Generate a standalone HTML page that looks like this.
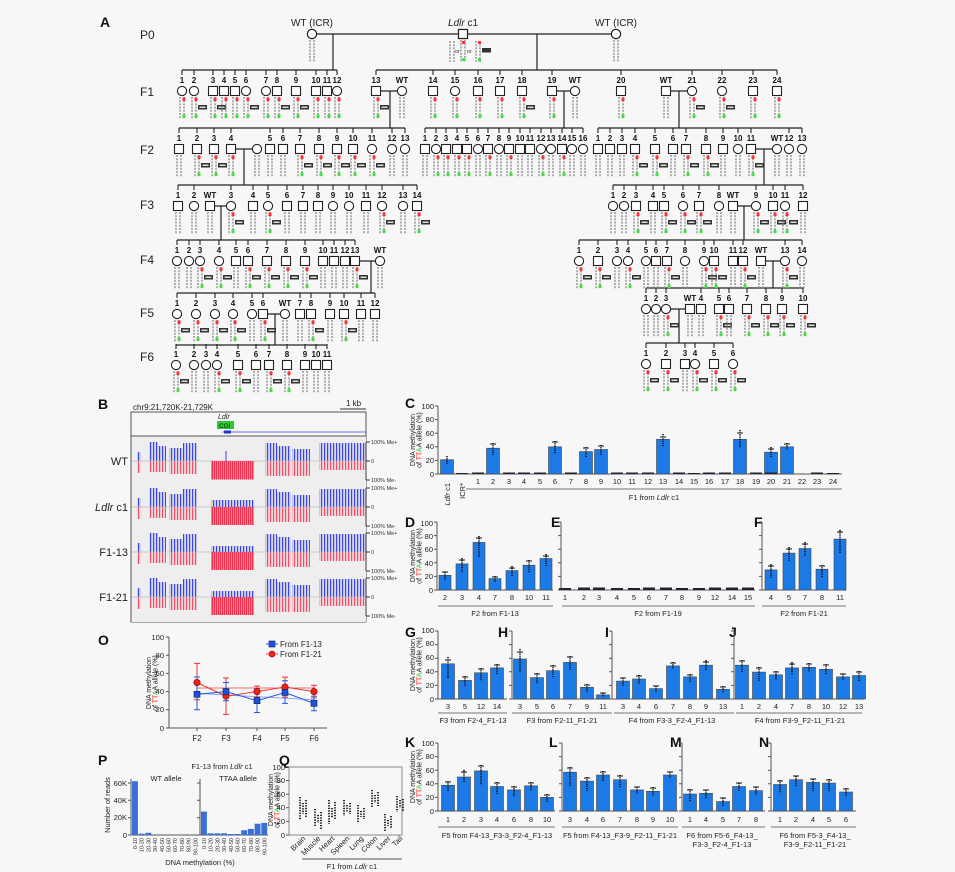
<!DOCTYPE html>
<html><head><meta charset="utf-8"><style>
html,body{margin:0;padding:0;background:#f7f7f7;}
svg{display:block;font-family:"Liberation Sans",Arial,sans-serif;}
</style></head><body>
<svg width="955" height="872" viewBox="0 0 955 872" xmlns="http://www.w3.org/2000/svg" xmlns:xlink="http://www.w3.org/1999/xlink">
<defs>
<g id="q"><path d="M-2 27V49M2 27V49" stroke="#888" stroke-width="1.3" stroke-dasharray="2,1.2" fill="none"/></g>
<g id="m"><rect x="0.5" y="27.5" width="3" height="3.5" fill="#f33"/><rect x="0.5" y="44.5" width="3" height="3.5" fill="#4d4"/></g>
<g id="u"><rect x="4" y="35" width="9" height="4.5" fill="#333"/><rect x="5.5" y="36.5" width="6" height="1.5" fill="#ddd"/></g>
<g id="sh"><rect x="-4.5" y="16.5" width="9" height="9" fill="#fff" stroke="#222" stroke-width="1.1"/></g>
<g id="ch"><circle cx="0" cy="21" r="4.6" fill="#fff" stroke="#222" stroke-width="1.1"/></g>
<g id="dl"><path d="M0 0V5" stroke="#222" stroke-width="1.1"/></g>
<g id="s0"><use xlink:href="#dl"/><use xlink:href="#sh"/><use xlink:href="#q"/></g>
<g id="s1"><use xlink:href="#s0"/><use xlink:href="#m"/></g>
<g id="s2"><use xlink:href="#s1"/><use xlink:href="#u"/></g>
<g id="c0"><use xlink:href="#dl"/><use xlink:href="#ch"/><use xlink:href="#q"/></g>
<g id="c1"><use xlink:href="#c0"/><use xlink:href="#m"/></g>
<g id="c2"><use xlink:href="#c1"/><use xlink:href="#u"/></g>
<g id="sw"><use xlink:href="#sh"/><use xlink:href="#q"/></g>
<g id="cw"><use xlink:href="#ch"/><use xlink:href="#q"/></g>
<pattern id="pb" width="3" height="10" patternUnits="userSpaceOnUse"><rect width="1.1" height="10" fill="#3b45e8"/><rect x="1.6" width="0.7" height="10" fill="#a0a5f2"/></pattern>
<pattern id="pr" width="3" height="10" patternUnits="userSpaceOnUse"><rect width="1.1" height="10" fill="#f0506a"/><rect x="1.6" width="0.7" height="10" fill="#f5a8b4"/></pattern>
<pattern id="prd" width="2" height="10" patternUnits="userSpaceOnUse"><rect width="1.3" height="10" fill="#f0304f"/><rect x="1.3" width="0.7" height="10" fill="#f58a9c"/></pattern>
<g id="ax"><path d="M0 0V-68M-3 0h3M-3 -13.6h3M-3 -27.2h3M-3 -40.8h3M-3 -54.4h3M-3 -68h3" stroke="#555" fill="none"/></g>
<g id="trk">
<rect x="137" y="-9" width="4" height="9" fill="url(#pb)"/><rect x="137" y="0" width="4" height="12" fill="url(#pr)"/>
<rect x="149" y="-19" width="9" height="19" fill="url(#pb)"/><rect x="158" y="-15" width="8" height="15" fill="url(#pb)"/><rect x="149" y="0" width="17" height="11" fill="url(#pr)"/>
<rect x="169" y="-13" width="14" height="13" fill="url(#pb)"/><rect x="183" y="-18" width="14" height="18" fill="url(#pb)"/><rect x="169" y="0" width="28" height="13" fill="url(#pr)"/>
<rect x="265" y="-18" width="12" height="18" fill="url(#pb)"/><rect x="277" y="-15" width="14" height="15" fill="url(#pb)"/><rect x="265" y="0" width="26" height="15" fill="url(#pr)"/>
<rect x="292" y="-12" width="18" height="12" fill="url(#pb)"/><rect x="292" y="0" width="18" height="15" fill="url(#pr)"/>
<rect x="319" y="-18" width="47" height="18" fill="url(#pb)"/><rect x="319" y="0" width="47" height="9" fill="url(#pr)"/>
<path d="M131.5 0H366" stroke="#bbb" stroke-width="0.8"/>
<path d="M366 -19V19M366 -19h4M366 0h4M366 19h4" stroke="#333" stroke-width="0.9"/>
</g>
</defs>
<rect width="955" height="872" fill="#f7f7f7"/>
<g font-weight="bold" font-size="14" fill="#111">
<text x="100" y="27">A</text><text x="98" y="409">B</text><text x="405" y="408">C</text>
<text x="405" y="527">D</text><text x="551" y="527">E</text><text x="754" y="527">F</text>
<text x="405" y="637">G</text><text x="498" y="637">H</text><text x="605" y="637">I</text><text x="729" y="637">J</text>
<text x="405" y="747">K</text><text x="549" y="747">L</text><text x="670" y="747">M</text><text x="759" y="747">N</text>
<text x="98" y="645">O</text><text x="98" y="765">P</text><text x="279" y="765">Q</text>
</g>
<g font-size="12" fill="#222">
<text x="140" y="39">P0</text><text x="140" y="96">F1</text><text x="140" y="154">F2</text>
<text x="140" y="209">F3</text><text x="140" y="264">F4</text><text x="140" y="317">F5</text><text x="140" y="361">F6</text>
</g>
<g font-size="10" fill="#222" text-anchor="middle">
<text x="312" y="26">WT (ICR)</text><text x="463" y="26"><tspan font-style="italic">Ldlr</tspan> c1</text><text x="616" y="26">WT (ICR)</text>
</g>
<!-- P0 -->
<g stroke="#222" stroke-width="1.2" fill="none">
<path d="M312 34H616M333 34V70M537 34V70"/>
<path d="M182 70H337M376 70H777"/>
<path d="M381 91H397M390 91V128M557 91H570M564 91V128M671 91H687M679 91V128"/>
<path d="M179 128H405M425 128H583M598 128H802"/>
<path d="M236 149H252M244 149V185M756 149H772M764 149V185"/>
<path d="M178 185H417M613 185H803"/>
<path d="M215 206H226M221 206V240M738 206H751M744 206V240"/>
<path d="M177 240H355M579 240H802"/>
<path d="M360 261H375M371 261V293M766 261H780M773 261V288"/>
<path d="M177 293H375M646 288H803"/>
<path d="M268 314H280M275 314V345M671 309H685M679 309V343"/>
<path d="M176 345H327M646 343H733"/>
</g>
<use xlink:href="#cw" x="312" y="13"/><use xlink:href="#sw" x="463" y="13"/><use xlink:href="#cw" x="616" y="13"/>
<rect x="458.5" y="29.5" width="9" height="9" fill="#fff" stroke="#222" stroke-width="1.2"/>
<circle cx="312" cy="34" r="4.6" fill="#fff" stroke="#222" stroke-width="1.2"/><circle cx="616" cy="34" r="4.6" fill="#fff" stroke="#222" stroke-width="1.2"/>
<path d="M450 41V62M454 41V62M476 41V62M480 41V62" stroke="#888" stroke-width="1.3" stroke-dasharray="2,1.2"/>
<rect x="462" y="41" width="3" height="3" fill="#f33"/><rect x="478" y="41" width="3" height="3" fill="#f33"/><rect x="462" y="58" width="3" height="3" fill="#4d4"/><rect x="478" y="58" width="3" height="3" fill="#4d4"/>
<rect x="482" y="48" width="9" height="4.5" fill="#333"/>
<text x="455" y="53" font-size="5" fill="#222">or</text><text x="467" y="53" font-size="5" fill="#222">or</text>
<!-- F1 -->
<use xlink:href="#c1" x="182" y="70"/><use xlink:href="#c2" x="194" y="70"/><use xlink:href="#s2" x="213" y="70"/><use xlink:href="#s1" x="224" y="70"/><use xlink:href="#s1" x="235" y="70"/><use xlink:href="#c2" x="246" y="70"/><use xlink:href="#c1" x="266" y="70"/><use xlink:href="#s2" x="277" y="70"/><use xlink:href="#s2" x="296" y="70"/><use xlink:href="#s1" x="316" y="70"/><use xlink:href="#s1" x="327" y="70"/><use xlink:href="#c1" x="337" y="70"/>
<use xlink:href="#s2" x="376" y="70"/><use xlink:href="#cw" x="402" y="70"/><use xlink:href="#s1" x="433" y="70"/><use xlink:href="#c1" x="455" y="70"/><use xlink:href="#s1" x="478" y="70"/><use xlink:href="#s1" x="500" y="70"/><use xlink:href="#s2" x="522" y="70"/><use xlink:href="#s1" x="552" y="70"/><use xlink:href="#cw" x="575" y="70"/><use xlink:href="#s1" x="621" y="70"/><use xlink:href="#sw" x="666" y="70"/><use xlink:href="#c2" x="692" y="70"/><use xlink:href="#c2" x="722" y="70"/><use xlink:href="#s1" x="753" y="70"/><use xlink:href="#s1" x="777" y="70"/>
<!-- F2 -->
<use xlink:href="#s0" x="179" y="128"/><use xlink:href="#s2" x="197" y="128"/><use xlink:href="#s2" x="214" y="128"/><use xlink:href="#s1" x="231" y="128"/><use xlink:href="#cw" x="257" y="128"/><use xlink:href="#s0" x="270" y="128"/><use xlink:href="#s0" x="283" y="128"/><use xlink:href="#s2" x="300" y="128"/><use xlink:href="#s2" x="319" y="128"/><use xlink:href="#s2" x="337" y="128"/><use xlink:href="#s2" x="353" y="128"/><use xlink:href="#c2" x="372" y="128"/><use xlink:href="#c0" x="392" y="128"/><use xlink:href="#c0" x="405" y="128"/>
<use xlink:href="#s0" x="425" y="128"/><use xlink:href="#c1" x="436" y="128"/><use xlink:href="#s1" x="446" y="128"/><use xlink:href="#s1" x="457" y="128"/><use xlink:href="#s1" x="467" y="128"/><use xlink:href="#c0" x="478" y="128"/><use xlink:href="#s1" x="488" y="128"/><use xlink:href="#c0" x="499" y="128"/><use xlink:href="#s1" x="509" y="128"/><use xlink:href="#s0" x="520" y="128"/><use xlink:href="#s0" x="530" y="128"/><use xlink:href="#c1" x="541" y="128"/><use xlink:href="#c0" x="551" y="128"/><use xlink:href="#s1" x="562" y="128"/><use xlink:href="#c0" x="572" y="128"/><use xlink:href="#c0" x="583" y="128"/>
<use xlink:href="#s0" x="598" y="128"/><use xlink:href="#s0" x="610" y="128"/><use xlink:href="#s0" x="622" y="128"/><use xlink:href="#s2" x="635" y="128"/><use xlink:href="#s2" x="655" y="128"/><use xlink:href="#s0" x="673" y="128"/><use xlink:href="#s2" x="686" y="128"/><use xlink:href="#s2" x="706" y="128"/><use xlink:href="#s0" x="723" y="128"/><use xlink:href="#c0" x="738" y="128"/><use xlink:href="#s2" x="751" y="128"/><use xlink:href="#cw" x="777" y="128"/><use xlink:href="#c0" x="789" y="128"/><use xlink:href="#c0" x="802" y="128"/>
<!-- F3 -->
<use xlink:href="#s0" x="178" y="185"/><use xlink:href="#c0" x="194" y="185"/><use xlink:href="#sw" x="210" y="185"/><use xlink:href="#c2" x="231" y="185"/><use xlink:href="#s0" x="253" y="185"/><use xlink:href="#c2" x="268" y="185"/><use xlink:href="#s0" x="287" y="185"/><use xlink:href="#s0" x="303" y="185"/><use xlink:href="#s0" x="318" y="185"/><use xlink:href="#c0" x="333" y="185"/><use xlink:href="#c0" x="349" y="185"/><use xlink:href="#s0" x="366" y="185"/><use xlink:href="#c2" x="382" y="185"/><use xlink:href="#c0" x="403" y="185"/><use xlink:href="#s2" x="417" y="185"/>
<use xlink:href="#c0" x="613" y="185"/><use xlink:href="#c0" x="624" y="185"/><use xlink:href="#s2" x="636" y="185"/><use xlink:href="#s0" x="653" y="185"/><use xlink:href="#s2" x="664" y="185"/><use xlink:href="#c2" x="683" y="185"/><use xlink:href="#s2" x="699" y="185"/><use xlink:href="#c0" x="719" y="185"/><use xlink:href="#sw" x="733" y="185"/><use xlink:href="#c2" x="756" y="185"/><use xlink:href="#s2" x="773" y="185"/><use xlink:href="#c2" x="785" y="185"/><use xlink:href="#s0" x="803" y="185"/>
<!-- F4 -->
<use xlink:href="#c0" x="177" y="240"/><use xlink:href="#c0" x="189" y="240"/><use xlink:href="#c2" x="200" y="240"/><use xlink:href="#c2" x="219" y="240"/><use xlink:href="#s0" x="236" y="240"/><use xlink:href="#s2" x="248" y="240"/><use xlink:href="#s2" x="267" y="240"/><use xlink:href="#s2" x="286" y="240"/><use xlink:href="#s2" x="305" y="240"/><use xlink:href="#s0" x="323" y="240"/><use xlink:href="#s0" x="334" y="240"/><use xlink:href="#s0" x="345" y="240"/><use xlink:href="#s2" x="355" y="240"/><use xlink:href="#cw" x="380" y="240"/>
<use xlink:href="#c2" x="579" y="240"/><use xlink:href="#s2" x="598" y="240"/><use xlink:href="#c0" x="617" y="240"/><use xlink:href="#c2" x="628" y="240"/><use xlink:href="#c0" x="646" y="240"/><use xlink:href="#s0" x="656" y="240"/><use xlink:href="#s2" x="667" y="240"/><use xlink:href="#c0" x="685" y="240"/><use xlink:href="#c2" x="704" y="240"/><use xlink:href="#s2" x="714" y="240"/><use xlink:href="#s0" x="733" y="240"/><use xlink:href="#s2" x="743" y="240"/><use xlink:href="#sw" x="761" y="240"/><use xlink:href="#c2" x="785" y="240"/><use xlink:href="#c0" x="802" y="240"/>
<!-- F5 -->
<use xlink:href="#c2" x="177" y="293"/><use xlink:href="#c2" x="196" y="293"/><use xlink:href="#c2" x="215" y="293"/><use xlink:href="#c2" x="233" y="293"/><use xlink:href="#c0" x="252" y="293"/><use xlink:href="#s2" x="263" y="293"/><use xlink:href="#cw" x="285" y="293"/><use xlink:href="#s0" x="300" y="293"/><use xlink:href="#s2" x="311" y="293"/><use xlink:href="#s0" x="330" y="293"/><use xlink:href="#s2" x="344" y="293"/><use xlink:href="#s0" x="361" y="293"/><use xlink:href="#s0" x="375" y="293"/>
<use xlink:href="#c0" x="646" y="288"/><use xlink:href="#c0" x="656" y="288"/><use xlink:href="#c2" x="666" y="288"/><use xlink:href="#sw" x="690" y="288"/><use xlink:href="#s0" x="701" y="288"/><use xlink:href="#s2" x="719" y="288"/><use xlink:href="#s0" x="729" y="288"/><use xlink:href="#s2" x="747" y="288"/><use xlink:href="#s2" x="766" y="288"/><use xlink:href="#s2" x="782" y="288"/><use xlink:href="#s2" x="803" y="288"/>
<!-- F6 -->
<use xlink:href="#c2" x="176" y="344"/><use xlink:href="#c0" x="194" y="344"/><use xlink:href="#c0" x="206" y="344"/><use xlink:href="#c2" x="217" y="344"/><use xlink:href="#s2" x="238" y="344"/><use xlink:href="#s0" x="256" y="344"/><use xlink:href="#s2" x="269" y="344"/><use xlink:href="#s2" x="287" y="344"/><use xlink:href="#s0" x="305" y="344"/><use xlink:href="#s0" x="316" y="344"/><use xlink:href="#s0" x="327" y="344"/>
<use xlink:href="#c2" x="646" y="343"/><use xlink:href="#s2" x="666" y="343"/><use xlink:href="#s0" x="685" y="343"/><use xlink:href="#c2" x="695" y="343"/><use xlink:href="#s2" x="714" y="343"/><use xlink:href="#c2" x="733" y="343"/>
<!-- pedigree labels -->
<g font-size="8" font-weight="bold" fill="#111" text-anchor="middle">
<text x="182" y="83">1</text><text x="194" y="83">2</text><text x="213" y="83">3</text><text x="224" y="83">4</text><text x="235" y="83">5</text><text x="246" y="83">6</text><text x="266" y="83">7</text><text x="277" y="83">8</text><text x="296" y="83">9</text><text x="316" y="83">10</text><text x="327" y="83">11</text><text x="337" y="83">12</text>
<text x="376" y="83">13</text><text x="402" y="83">WT</text><text x="433" y="83">14</text><text x="455" y="83">15</text><text x="478" y="83">16</text><text x="500" y="83">17</text><text x="522" y="83">18</text><text x="552" y="83">19</text><text x="575" y="83">WT</text><text x="621" y="83">20</text><text x="666" y="83">WT</text><text x="692" y="83">21</text><text x="722" y="83">22</text><text x="753" y="83">23</text><text x="777" y="83">24</text>
<text x="179" y="141">1</text><text x="197" y="141">2</text><text x="214" y="141">3</text><text x="231" y="141">4</text><text x="270" y="141">5</text><text x="283" y="141">6</text><text x="300" y="141">7</text><text x="319" y="141">8</text><text x="337" y="141">9</text><text x="353" y="141">10</text><text x="372" y="141">11</text><text x="392" y="141">12</text><text x="405" y="141">13</text>
<text x="425" y="141">1</text><text x="436" y="141">2</text><text x="446" y="141">3</text><text x="457" y="141">4</text><text x="467" y="141">5</text><text x="478" y="141">6</text><text x="488" y="141">7</text><text x="499" y="141">8</text><text x="509" y="141">9</text><text x="520" y="141">10</text><text x="530" y="141">11</text><text x="541" y="141">12</text><text x="551" y="141">13</text><text x="562" y="141">14</text><text x="572" y="141">15</text><text x="583" y="141">16</text>
<text x="598" y="141">1</text><text x="610" y="141">2</text><text x="622" y="141">3</text><text x="635" y="141">4</text><text x="655" y="141">5</text><text x="673" y="141">6</text><text x="686" y="141">7</text><text x="706" y="141">8</text><text x="723" y="141">9</text><text x="738" y="141">10</text><text x="751" y="141">11</text><text x="777" y="141">WT</text><text x="789" y="141">12</text><text x="802" y="141">13</text>
<text x="178" y="198">1</text><text x="194" y="198">2</text><text x="210" y="198">WT</text><text x="231" y="198">3</text><text x="253" y="198">4</text><text x="268" y="198">5</text><text x="287" y="198">6</text><text x="303" y="198">7</text><text x="318" y="198">8</text><text x="333" y="198">9</text><text x="349" y="198">10</text><text x="366" y="198">11</text><text x="382" y="198">12</text><text x="403" y="198">13</text><text x="417" y="198">14</text>
<text x="613" y="198">1</text><text x="624" y="198">2</text><text x="636" y="198">3</text><text x="653" y="198">4</text><text x="664" y="198">5</text><text x="683" y="198">6</text><text x="699" y="198">7</text><text x="719" y="198">8</text><text x="733" y="198">WT</text><text x="756" y="198">9</text><text x="773" y="198">10</text><text x="785" y="198">11</text><text x="803" y="198">12</text>
<text x="177" y="253">1</text><text x="189" y="253">2</text><text x="200" y="253">3</text><text x="219" y="253">4</text><text x="236" y="253">5</text><text x="248" y="253">6</text><text x="267" y="253">7</text><text x="286" y="253">8</text><text x="305" y="253">9</text><text x="323" y="253">10</text><text x="334" y="253">11</text><text x="345" y="253">12</text><text x="355" y="253">13</text><text x="380" y="253">WT</text>
<text x="579" y="253">1</text><text x="598" y="253">2</text><text x="617" y="253">3</text><text x="628" y="253">4</text><text x="646" y="253">5</text><text x="656" y="253">6</text><text x="667" y="253">7</text><text x="685" y="253">8</text><text x="704" y="253">9</text><text x="714" y="253">10</text><text x="733" y="253">11</text><text x="743" y="253">12</text><text x="761" y="253">WT</text><text x="785" y="253">13</text><text x="802" y="253">14</text>
<text x="177" y="306">1</text><text x="196" y="306">2</text><text x="215" y="306">3</text><text x="233" y="306">4</text><text x="252" y="306">5</text><text x="263" y="306">6</text><text x="285" y="306">WT</text><text x="300" y="306">7</text><text x="311" y="306">8</text><text x="330" y="306">9</text><text x="344" y="306">10</text><text x="361" y="306">11</text><text x="375" y="306">12</text>
<text x="646" y="301">1</text><text x="656" y="301">2</text><text x="666" y="301">3</text><text x="690" y="301">WT</text><text x="701" y="301">4</text><text x="719" y="301">5</text><text x="729" y="301">6</text><text x="747" y="301">7</text><text x="766" y="301">8</text><text x="782" y="301">9</text><text x="803" y="301">10</text>
<text x="176" y="357">1</text><text x="194" y="357">2</text><text x="206" y="357">3</text><text x="217" y="357">4</text><text x="238" y="357">5</text><text x="256" y="357">6</text><text x="269" y="357">7</text><text x="287" y="357">8</text><text x="305" y="357">9</text><text x="316" y="357">10</text><text x="327" y="357">11</text>
<text x="646" y="356">1</text><text x="666" y="356">2</text><text x="685" y="356">3</text><text x="695" y="356">4</text><text x="714" y="356">5</text><text x="733" y="356">6</text>
</g>
<!-- Panel B -->
<text x="133" y="410" font-size="8" fill="#222">chr9:21,720K-21,729K</text>
<text x="346" y="406" font-size="8" fill="#222">1 kb</text>
<line x1="340" y1="409" x2="366" y2="409" stroke="#333" stroke-width="1"/>
<rect x="131" y="412" width="235" height="210" fill="#f7f7f7" stroke="#555" stroke-width="1"/>
<rect x="131.5" y="436" width="234.5" height="186" fill="#eeeeee"/>
<line x1="131" y1="436" x2="366" y2="436" stroke="#555"/>
<text x="218" y="419" font-size="7" font-style="italic" fill="#222">Ldlr</text>
<rect x="217" y="421" width="17" height="8" fill="#2ecc2e"/>
<text x="219" y="428" font-size="6.5" fill="#111">CGI</text>
<line x1="222" y1="432" x2="366" y2="432" stroke="#3344dd" stroke-width="0.8"/>
<rect x="224" y="430.5" width="7" height="3" fill="#2233cc"/>
<use xlink:href="#trk" x="0" y="461"/><use xlink:href="#trk" x="0" y="507"/><use xlink:href="#trk" x="0" y="552"/><use xlink:href="#trk" x="0" y="597"/>
<rect x="211" y="461" width="43" height="18.5" fill="url(#prd)"/><line x1="226" y1="461" x2="226" y2="451" stroke="#3b45e8"/>
<rect x="211" y="500" width="43" height="7" fill="url(#pb)"/><rect x="211" y="507" width="43" height="18" fill="url(#prd)"/>
<rect x="211" y="546" width="43" height="6" fill="url(#pb)"/><rect x="211" y="552" width="43" height="18" fill="url(#prd)"/>
<rect x="211" y="591" width="43" height="6" fill="url(#pb)"/><rect x="211" y="597" width="43" height="18" fill="url(#prd)"/>
<g font-size="5.5" fill="#333">
<text x="371" y="444">100% Me+</text><text x="371" y="463">0</text><text x="371" y="482">100% Me-</text>
<text x="371" y="490">100% Me+</text><text x="371" y="509">0</text><text x="371" y="528">100% Me-</text>
<text x="371" y="535">100% Me+</text><text x="371" y="554">0</text><text x="371" y="573">100% Me-</text>
<text x="371" y="580">100% Me+</text><text x="371" y="599">0</text><text x="371" y="618">100% Me-</text>
</g>
<g font-size="11" fill="#222" text-anchor="end">
<text x="128" y="465">WT</text><text x="128" y="511"><tspan font-style="italic">Ldlr</tspan> c1</text>
<text x="128" y="556">F1-13</text><text x="128" y="601">F1-21</text>
</g>
<!-- axes -->
<use xlink:href="#ax" x="438" y="474"/><use xlink:href="#ax" x="437" y="590"/><use xlink:href="#ax" x="561" y="590"/><use xlink:href="#ax" x="762" y="590"/>
<use xlink:href="#ax" x="438" y="699"/><use xlink:href="#ax" x="512" y="699"/><use xlink:href="#ax" x="612" y="699"/><use xlink:href="#ax" x="734" y="699"/>
<use xlink:href="#ax" x="438" y="811"/><use xlink:href="#ax" x="562" y="811"/><use xlink:href="#ax" x="682" y="811"/><use xlink:href="#ax" x="771" y="811"/>
<path d="M438 474H842M437 590H553M561 590H755M762 590H846M438 699H507M512 699H612M612 699H734M734 699H864M438 811H555M562 811H678M682 811H765M771 811H856" stroke="#555"/>
<path d="M466 489H842M438 606H553M562 606H755M762 606H846M438 713H507M512 713H612M614 713H734M736 713H862M438 827H555M562 827H678M682 827H765M771 827H856" stroke="#777"/>
<g font-size="7.5" fill="#222" text-anchor="end">
<text x="434" y="477">0</text><text x="434" y="463">20</text><text x="434" y="449">40</text><text x="434" y="436">60</text><text x="434" y="422">80</text><text x="434" y="409">100</text>
<text x="433" y="593">0</text><text x="433" y="579">20</text><text x="433" y="566">40</text><text x="433" y="552">60</text><text x="433" y="539">80</text><text x="433" y="526">100</text>
<text x="434" y="702">0</text><text x="434" y="688">20</text><text x="434" y="674">40</text><text x="434" y="660">60</text><text x="434" y="646">80</text><text x="434" y="633">100</text>
<text x="434" y="814">0</text><text x="434" y="800">20</text><text x="434" y="786">40</text><text x="434" y="773">60</text><text x="434" y="759">80</text><text x="434" y="746">100</text>
</g>
<!-- bars -->
<g fill="#1c7ae6" stroke="#444" stroke-width="0.6">
<rect x="440.5" y="459.7" width="13" height="14.3"/><rect x="486.5" y="448.2" width="13" height="25.8"/><rect x="548.5" y="446.8" width="13" height="27.2"/><rect x="579.5" y="451.6" width="13" height="22.4"/><rect x="594.5" y="449.5" width="13" height="24.5"/><rect x="656.5" y="439.3" width="13" height="34.7"/><rect x="733.5" y="439.3" width="13" height="34.7"/><rect x="764.5" y="452.2" width="13" height="21.8"/><rect x="780.5" y="446.8" width="13" height="27.2"/>
<rect x="439" y="575.3" width="12" height="14.7"/><rect x="456" y="563.9" width="12" height="26.1"/><rect x="473" y="542.4" width="12" height="47.6"/><rect x="489" y="578.6" width="12" height="11.4"/><rect x="506" y="570.6" width="12" height="19.4"/><rect x="523" y="565.2" width="12" height="24.8"/><rect x="540" y="558.5" width="12" height="31.5"/>
<rect x="765" y="569.9" width="12" height="20.1"/><rect x="783" y="553.1" width="12" height="36.9"/><rect x="799" y="548.5" width="12" height="41.5"/><rect x="816" y="569.2" width="12" height="20.8"/><rect x="834" y="539.1" width="12" height="50.9"/>
<rect x="441.5" y="663.8" width="13" height="35.2"/><rect x="458.5" y="680.4" width="13" height="18.6"/><rect x="474.5" y="672.8" width="13" height="26.2"/><rect x="490.5" y="667.9" width="13" height="31.1"/>
<rect x="513.5" y="659" width="13" height="40"/><rect x="530.5" y="677.6" width="13" height="21.4"/><rect x="546.5" y="670.7" width="13" height="28.3"/><rect x="563.5" y="662.4" width="13" height="36.6"/><rect x="580.5" y="687.3" width="13" height="11.7"/><rect x="596.5" y="694.9" width="13" height="4.1"/>
<rect x="616.5" y="681.1" width="13" height="17.9"/><rect x="632.5" y="679" width="13" height="20"/><rect x="649.5" y="688.6" width="13" height="10.4"/><rect x="666.5" y="665.9" width="13" height="33.1"/><rect x="683.5" y="676.9" width="13" height="22.1"/><rect x="699.5" y="665.2" width="13" height="33.8"/><rect x="716.5" y="689.3" width="13" height="9.7"/>
<rect x="735.5" y="665.2" width="13" height="33.8"/><rect x="752.5" y="672.1" width="13" height="26.9"/><rect x="769.5" y="674.8" width="13" height="24.2"/><rect x="785.5" y="667.9" width="13" height="31.1"/><rect x="802.5" y="667.3" width="13" height="31.7"/><rect x="819.5" y="669.3" width="13" height="29.7"/><rect x="836.5" y="676.9" width="13" height="22.1"/><rect x="852.5" y="675.5" width="13" height="23.5"/>
<rect x="441.5" y="785.2" width="13" height="25.8"/><rect x="457.5" y="777" width="13" height="34"/><rect x="474.5" y="770.9" width="13" height="40.1"/><rect x="490.5" y="786.5" width="13" height="24.5"/><rect x="507.5" y="789.9" width="13" height="21.1"/><rect x="524.5" y="785.8" width="13" height="25.2"/><rect x="540.5" y="797.4" width="13" height="13.6"/>
<rect x="563.5" y="772.2" width="13" height="38.8"/><rect x="580.5" y="781.1" width="13" height="29.9"/><rect x="596.5" y="775" width="13" height="36"/><rect x="613.5" y="779.7" width="13" height="31.3"/><rect x="630.5" y="789.9" width="13" height="21.1"/><rect x="646.5" y="791.3" width="13" height="19.7"/><rect x="663.5" y="775" width="13" height="36"/>
<rect x="683.5" y="794" width="13" height="17"/><rect x="699.5" y="793.3" width="13" height="17.7"/><rect x="716.5" y="801.5" width="13" height="9.5"/><rect x="732.5" y="786.5" width="13" height="24.5"/><rect x="749.5" y="790.6" width="13" height="20.4"/>
<rect x="773.5" y="784.5" width="13" height="26.5"/><rect x="789.5" y="779.7" width="13" height="31.3"/><rect x="806.5" y="782.4" width="13" height="28.6"/><rect x="822.5" y="783.1" width="13" height="27.9"/><rect x="839.5" y="792" width="13" height="19"/>
</g>
<g fill="#223">
<rect x="472" y="472.5" width="12" height="1.5"/><rect x="503" y="472.5" width="12" height="1.5"/><rect x="518" y="472.5" width="12" height="1.5"/><rect x="534" y="472.5" width="12" height="1.5"/><rect x="565" y="472.5" width="12" height="1.5"/><rect x="611" y="472.5" width="12" height="1.5"/><rect x="626" y="472.5" width="12" height="1.5"/><rect x="642" y="472.5" width="12" height="1.5"/><rect x="673" y="472.5" width="12" height="1.5"/><rect x="703" y="472.5" width="12" height="1.5"/><rect x="719" y="472.5" width="12" height="1.5"/><rect x="750" y="472.5" width="12" height="1.5"/><rect x="765" y="472.5" width="12" height="1.5"/><rect x="811" y="472.5" width="12" height="1.5"/><rect x="456" y="473" width="12" height="1"/><rect x="688" y="473" width="12" height="1"/><rect x="827" y="473" width="12" height="1"/>
<rect x="559" y="588" width="12" height="2"/><rect x="578" y="587.5" width="12" height="2.5"/><rect x="593" y="587.5" width="12" height="2.5"/><rect x="611" y="588" width="12" height="2"/><rect x="628" y="588" width="12" height="2"/><rect x="643" y="587.5" width="12" height="2.5"/><rect x="660" y="587.5" width="12" height="2.5"/><rect x="676" y="588" width="12" height="2"/><rect x="693" y="588" width="12" height="2"/><rect x="709" y="587.5" width="12" height="2.5"/><rect x="726" y="587.5" width="12" height="2.5"/><rect x="742" y="587.5" width="12" height="2.5"/>
</g>
<g stroke="#111" stroke-width="1.6" stroke-dasharray="1.2,1" fill="none">
<path d="M447 456V464M493 443V455M555 441V454M586 447V457M601 445V455M663 434V447M740 430V448M771 447V457M787 443V450"/>
<path d="M445 572V580M462 558V572M479 536V557M495 576V582M512 566V576M529 560V573M546 554V566M771 564V578M789 547V561M805 542V556M822 565V578M840 530V553"/>
<path d="M448 657V678M465 676V687M481 668V681M497 664V675M520 649V673M537 673V684M553 665V678M570 656V670M587 684V692M603 693V697M623 678V686M639 675V684M656 686V692M673 662V669M690 674V682M706 660V670M723 686V693M742 660V672M759 667V681M776 671V680M792 662V675M809 663V672M826 664V675M843 674V680M859 671V681"/>
<path d="M448 781V791M464 770V783M481 765V785M497 782V794M514 786V797M531 782V791M547 794V802M570 767V786M587 777V791M603 771V782M620 775V788M637 787V794M653 787V796M670 772V778M690 789V802M706 790V799M723 798V806M739 783V791M756 787V795M780 780V793M796 776V786M813 779V791M829 779V791M846 788V797"/>
</g>
<g stroke="#111" stroke-width="0.9">
<path d="M490 444h6M552 442h6M583 448h6M598 446h6M660 437h6M737 433h6M768 449h6M784 444h6M442 572h6M459 560h6M476 538h6M492 577h6M509 568h6M526 561h6M543 556h6M768 566h6M786 549h6M802 544h6M819 566h6M837 532h6M445 660h6M462 677h6M478 669h6M494 665h6M517 652h6M534 674h6M550 666h6M567 657h6M584 685h6M600 693h6M620 678h6M636 676h6M653 686h6M670 663h6M687 675h6M703 662h6M720 687h6M739 661h6M756 668h6M773 672h6M789 664h6M806 664h6M823 665h6M840 674h6M856 672h6M445 782h6M461 772h6M478 766h6M494 783h6M511 787h6M528 783h6M544 795h6M567 768h6M584 778h6M600 772h6M617 776h6M634 787h6M650 788h6M667 772h6M687 790h6M703 790h6M720 798h6M736 783h6M753 787h6M777 781h6M793 776h6M810 779h6M826 780h6M843 789h6"/>
</g>
<g font-size="7.5" fill="#222" text-anchor="middle">
<text x="478" y="484">1</text><text x="493" y="484">2</text><text x="509" y="484">3</text><text x="524" y="484">4</text><text x="540" y="484">5</text><text x="555" y="484">6</text><text x="571" y="484">7</text><text x="586" y="484">8</text><text x="601" y="484">9</text><text x="617" y="484">10</text><text x="632" y="484">11</text><text x="648" y="484">12</text><text x="663" y="484">13</text><text x="679" y="484">14</text><text x="694" y="484">15</text><text x="709" y="484">16</text><text x="725" y="484">17</text><text x="740" y="484">18</text><text x="756" y="484">19</text><text x="771" y="484">20</text><text x="787" y="484">21</text><text x="802" y="484">22</text><text x="817" y="484">23</text><text x="833" y="484">24</text>
<text x="445" y="600">2</text><text x="462" y="600">3</text><text x="479" y="600">4</text><text x="495" y="600">7</text><text x="512" y="600">8</text><text x="529" y="600">10</text><text x="546" y="600">11</text>
<text x="565" y="600">1</text><text x="584" y="600">2</text><text x="599" y="600">3</text><text x="617" y="600">4</text><text x="634" y="600">5</text><text x="649" y="600">6</text><text x="666" y="600">7</text><text x="682" y="600">8</text><text x="699" y="600">9</text><text x="715" y="600">12</text><text x="732" y="600">14</text><text x="748" y="600">15</text>
<text x="771" y="600">4</text><text x="789" y="600">5</text><text x="805" y="600">7</text><text x="822" y="600">8</text><text x="840" y="600">11</text>
<text x="448" y="709">3</text><text x="465" y="709">5</text><text x="481" y="709">12</text><text x="497" y="709">14</text>
<text x="520" y="709">3</text><text x="537" y="709">5</text><text x="553" y="709">6</text><text x="570" y="709">7</text><text x="587" y="709">9</text><text x="603" y="709">11</text>
<text x="623" y="709">3</text><text x="639" y="709">4</text><text x="656" y="709">6</text><text x="673" y="709">7</text><text x="690" y="709">8</text><text x="706" y="709">9</text><text x="723" y="709">13</text>
<text x="742" y="709">1</text><text x="759" y="709">2</text><text x="776" y="709">4</text><text x="792" y="709">7</text><text x="809" y="709">8</text><text x="826" y="709">10</text><text x="843" y="709">12</text><text x="859" y="709">13</text>
<text x="448" y="822">1</text><text x="464" y="822">2</text><text x="481" y="822">3</text><text x="497" y="822">4</text><text x="514" y="822">6</text><text x="531" y="822">8</text><text x="547" y="822">10</text>
<text x="570" y="822">3</text><text x="587" y="822">4</text><text x="603" y="822">6</text><text x="620" y="822">7</text><text x="637" y="822">8</text><text x="653" y="822">9</text><text x="670" y="822">10</text>
<text x="690" y="822">1</text><text x="706" y="822">4</text><text x="723" y="822">5</text><text x="739" y="822">7</text><text x="756" y="822">8</text>
<text x="780" y="822">1</text><text x="796" y="822">2</text><text x="813" y="822">4</text><text x="829" y="822">5</text><text x="846" y="822">6</text>
</g>
<g font-size="7.5" fill="#222">
<text transform="translate(450,483) rotate(-90)" text-anchor="end"><tspan font-style="italic">Ldlr</tspan> c1</text>
<text transform="translate(465,483) rotate(-90)" text-anchor="end">ICR*</text>
</g>
<g font-size="7.5" fill="#222" text-anchor="middle">
<text x="654" y="500">F1 from <tspan font-style="italic">Ldlr</tspan> c1</text>
<text x="495" y="616">F2 from F1-13</text><text x="658" y="616">F2 from F1-19</text><text x="804" y="616">F2 from F1-21</text>
<text x="473" y="723">F3 from F2-4_F1-13</text><text x="562" y="723">F3 from F2-11_F1-21</text>
<text x="672" y="723">F4 from F3-3_F2-4_F1-13</text><text x="800" y="723">F4 from F3-9_F2-11_F1-21</text>
<text x="497" y="838">F5 from F4-13_F3-3_F2-4_F1-13</text><text x="620" y="838">F5 from F4-13_F3-9_F2-11_F1-21</text>
<text x="722" y="838">F6 from F5-6_F4-13_</text><text x="722" y="847">F3-3_F2-4_F1-13</text>
<text x="815" y="838">F6 from F5-3_F4-13_</text><text x="815" y="847">F3-9_F2-11_F1-21</text>
</g>
<g font-size="7" fill="#222" text-anchor="middle">
<text transform="translate(415,440) rotate(-90)">DNA methylation</text><text transform="translate(421.5,440) rotate(-90)">of <tspan fill="#ff2020">TT</tspan><tspan fill="#22cc22">A</tspan>A allele (%)</text>
<text transform="translate(415,556) rotate(-90)">DNA methylation</text><text transform="translate(421.5,556) rotate(-90)">of <tspan fill="#ff2020">TT</tspan><tspan fill="#22cc22">A</tspan>A allele (%)</text>
<text transform="translate(415,665) rotate(-90)">DNA methylation</text><text transform="translate(421.5,665) rotate(-90)">of <tspan fill="#ff2020">TT</tspan><tspan fill="#22cc22">A</tspan>A allele (%)</text>
<text transform="translate(415,777) rotate(-90)">DNA methylation</text><text transform="translate(421.5,777) rotate(-90)">of <tspan fill="#ff2020">TT</tspan><tspan fill="#22cc22">A</tspan>A allele (%)</text>
<text transform="translate(151,683) rotate(-90)">DNA methylation</text><text transform="translate(157.5,683) rotate(-90)">of <tspan fill="#ff2020">TT</tspan><tspan fill="#22cc22">A</tspan>A allele (%)</text>
<text transform="translate(273,800) rotate(-90)">DNA methylation</text><text transform="translate(279.5,800) rotate(-90)">of <tspan fill="#ff2020">TT</tspan><tspan fill="#22cc22">A</tspan>A allele (%)</text>
</g>
<!-- O -->
<path d="M169 637V728H327M166 728h3M166 709.8h3M166 691.6h3M166 673.4h3M166 655.2h3M166 637h3M197 728v3M226 728v3M257 728v3M285 728v3M314 728v3" stroke="#555" fill="none"/>
<g font-size="7.5" fill="#222" text-anchor="end">
<text x="164" y="731">0</text><text x="164" y="712">20</text><text x="164" y="694">40</text><text x="164" y="676">60</text><text x="164" y="658">80</text><text x="164" y="640">100</text>
</g>
<g font-size="8" fill="#222">
<text x="280" y="647">From F1-13</text><text x="280" y="657">From F1-21</text>
<text x="197" y="741" text-anchor="middle">F2</text><text x="226" y="741" text-anchor="middle">F3</text>
<text x="257" y="741" text-anchor="middle">F4</text><text x="285" y="741" text-anchor="middle">F5</text><text x="314" y="741" text-anchor="middle">F6</text>
</g>
<path d="M197 693.4L314 699.8" stroke="#8fa8f0" fill="none"/><path d="M197 688H314" stroke="#f07070" fill="none"/>
<g stroke="#e33" fill="none" stroke-width="1">
<polyline points="197,682.5 226,696.2 257,691.6 285,687 314,691.6"/>
<path d="M197 699.8V663.4M194 699.8h6M194 663.4h6M226 714.4V678M223 714.4h6M223 678h6M257 697.1V686.1M254 697.1h6M254 686.1h6M285 697.1V677.1M282 697.1h6M282 677.1h6M314 698V685.2M311 698h6M311 685.2h6"/>
</g>
<g stroke="#2a55e8" fill="none" stroke-width="1">
<polyline points="197,694.3 226,691.6 257,700.7 285,692.5 314,703.4"/>
<path d="M197 709.8V677M194 709.8h6M194 677h6M226 700.7V682.5M223 700.7h6M223 682.5h6M257 712.5V688.9M254 712.5h6M254 688.9h6M285 703.4V680.7M282 703.4h6M282 680.7h6M314 710.7V696.2M311 710.7h6M311 696.2h6"/>
</g>
<g fill="#e21" stroke="#800" stroke-width="0.6">
<circle cx="197" cy="682.5" r="3.2"/><circle cx="226" cy="696.2" r="3.2"/><circle cx="257" cy="691.6" r="3.2"/><circle cx="285" cy="687" r="3.2"/><circle cx="314" cy="691.6" r="3.2"/><circle cx="272" cy="654" r="3"/>
</g>
<g fill="#1a4fe8" stroke="#123" stroke-width="0.6">
<rect x="194" y="691.3" width="6" height="6"/><rect x="223" y="688.6" width="6" height="6"/><rect x="254" y="697.7" width="6" height="6"/><rect x="282" y="689.5" width="6" height="6"/><rect x="311" y="700.4" width="6" height="6"/><rect x="269" y="641" width="6" height="6"/>
</g>
<path d="M266 644h12" stroke="#2a55e8"/><path d="M266 654h12" stroke="#e33"/>
<!-- P -->
<g font-size="7.5" fill="#222" text-anchor="middle">
<text x="222" y="769">F1-13 from <tspan font-style="italic">Ldlr</tspan> c1</text>
<text x="166" y="781">WT allele</text><text x="238" y="781">TTAA allele</text>
<text x="200" y="865">DNA methylation (%)</text>
<text transform="translate(110,805) rotate(-90)">Number of reads</text>
<text x="352" y="869">F1 from <tspan font-style="italic">Ldlr</tspan> c1</text>
</g>
<path d="M131 779V835H198M200 779V835H268M128 835h3M128 817.7h3M128 800.3h3M128 783h3M197 835h3M197 817.7h3M197 800.3h3M197 783h3" stroke="#555" fill="none"/>
<g font-size="7.5" fill="#222" text-anchor="end">
<text x="127" y="838">0</text><text x="127" y="820">20K</text><text x="127" y="803">40K</text><text x="127" y="786">60K</text>
</g>
<g fill="#3a6fd6">
<rect x="132" y="781.2" width="5.9" height="53.8"/><rect x="138.7" y="833.7" width="5.9" height="1.3"/><rect x="145.4" y="832.8" width="5.9" height="2.2"/>
<rect x="201" y="811.6" width="5.9" height="23.4"/><rect x="207.7" y="833.3" width="5.9" height="1.7"/><rect x="214.4" y="833.3" width="5.9" height="1.7"/><rect x="221.1" y="833.3" width="5.9" height="1.7"/><rect x="227.8" y="834" width="5.9" height="1"/><rect x="234.5" y="834" width="5.9" height="1"/><rect x="241.2" y="830.2" width="5.9" height="4.8"/><rect x="247.9" y="828.9" width="5.9" height="6.1"/><rect x="254.6" y="823.7" width="5.9" height="11.3"/><rect x="261.3" y="822.9" width="5.9" height="12.1"/>
</g>
<g font-size="5.5" fill="#333" text-anchor="end">
<text transform="translate(137,838) rotate(-90)">0-10</text><text transform="translate(143.7,838) rotate(-90)">10-20</text><text transform="translate(150.4,838) rotate(-90)">20-30</text><text transform="translate(157.1,838) rotate(-90)">30-40</text><text transform="translate(163.8,838) rotate(-90)">40-50</text><text transform="translate(170.5,838) rotate(-90)">50-60</text><text transform="translate(177.2,838) rotate(-90)">60-70</text><text transform="translate(183.9,838) rotate(-90)">70-80</text><text transform="translate(190.6,838) rotate(-90)">80-90</text><text transform="translate(197.3,838) rotate(-90)">90-100</text>
<text transform="translate(206,838) rotate(-90)">0-10</text><text transform="translate(212.7,838) rotate(-90)">10-20</text><text transform="translate(219.4,838) rotate(-90)">20-30</text><text transform="translate(226.1,838) rotate(-90)">30-40</text><text transform="translate(232.8,838) rotate(-90)">40-50</text><text transform="translate(239.5,838) rotate(-90)">50-60</text><text transform="translate(246.2,838) rotate(-90)">60-70</text><text transform="translate(252.9,838) rotate(-90)">70-80</text><text transform="translate(259.6,838) rotate(-90)">80-90</text><text transform="translate(266.3,838) rotate(-90)">90-100</text>
</g>
<!-- Q -->
<rect x="289" y="767" width="113" height="68" fill="none" stroke="#888"/>
<path d="M286 835h3M286 821.4h3M286 807.8h3M286 794.2h3M286 780.6h3M286 767h3M302 859H402" stroke="#555"/>
<g font-size="7.5" fill="#222" text-anchor="end">
<text x="285" y="838">0</text><text x="285" y="824">20</text><text x="285" y="810">40</text><text x="285" y="797">60</text><text x="285" y="783">80</text><text x="285" y="770">100</text>
</g>
<g stroke="#111" stroke-width="1.8" stroke-dasharray="1.3,1.3">
<path d="M300 797V820M306 800V817M303 803V814"/>
<path d="M315 809V826M321 812V830M318 815V823"/>
<path d="M329 800V824M335 802V820M332 808V818"/>
<path d="M344 800V816M350 803V814M347 805V812"/>
<path d="M358 805V823M364 808V819M361 811V817"/>
<path d="M372 790V808M378 792V806M375 795V803"/>
<path d="M385 814V831M391 816V828M388 820V826"/>
<path d="M397 796V812M403 799V811M400 800V808"/>
</g>
<g font-size="7.5" fill="#222" text-anchor="end">
<text transform="translate(306,839) rotate(-45)">Brain</text><text transform="translate(321,839) rotate(-45)">Muscle</text><text transform="translate(335,839) rotate(-45)">Heart</text><text transform="translate(350,839) rotate(-45)">Spleen</text><text transform="translate(364,839) rotate(-45)">Lung</text><text transform="translate(378,839) rotate(-45)">Colon</text><text transform="translate(391,839) rotate(-45)">Liver</text><text transform="translate(403,839) rotate(-45)">Tail</text>
</g>
</svg>
</body></html>
